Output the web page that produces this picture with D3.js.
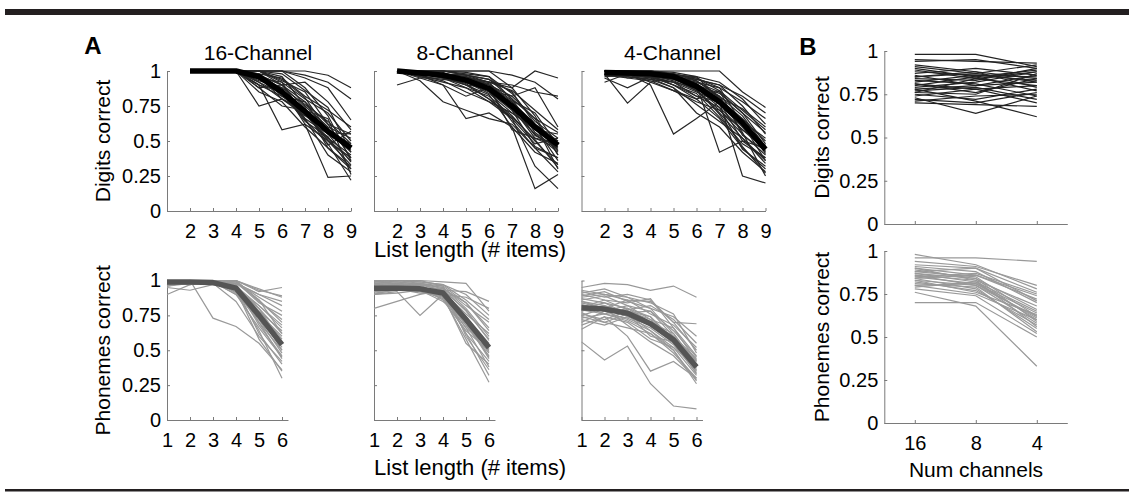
<!DOCTYPE html>
<html>
<head>
<meta charset="utf-8">
<script src="https://cdn.jsdelivr.net/npm/d3@7"></script>
<style>
    body { margin: 0; background: #fff; }
    svg { display: block; }
</style>
</head>
<body>
<script>
    // list lengths on the x axes
    var listLenDigits = [2, 3, 4, 5, 6, 7, 8, 9];
    var listLenPhon = [1, 2, 3, 4, 5, 6];
    var channelLabels = ["16", "8", "4"];
    var yTicks = [0, 0.25, 0.5, 0.75, 1];

    // digit span, proportion correct per subject (list length 2..9)
    var digits16 = [
        [1,1,1,1,1,1,0.97,0.88], [1,1,1,1,1,0.97,0.92,0.80], [1,1,1,1,1,0.95,0.88,0.65],
        [1,1,1,0.75,0.80,0.70,0.55,0.45], [1,1,1,0.90,0.58,0.62,0.50,0.38], [1,1,1,0.95,0.88,0.62,0.24,0.25],
        [1,1,1,1,0.93,0.85,0.62,0.55], [1,1,1,0.97,0.90,0.78,0.55,0.35], [1,1,1,0.92,0.80,0.68,0.58,0.42],
        [1,1,1,0.98,0.87,0.73,0.45,0.30], [1,1,1,0.95,0.92,0.80,0.70,0.50], [1,1,1,0.90,0.85,0.65,0.48,0.22],
        [1,1,1,1,0.96,0.75,0.60,0.52], [1,1,1,0.85,0.78,0.60,0.45,0.32], [1,1,1,1,0.90,0.92,0.78,0.58],
        [1,1,1,0.97,0.82,0.70,0.52,0.40], [1,1,1,0.93,0.88,0.76,0.64,0.48], [1,1,1,1,1,0.88,0.68,0.36],
        [1,1,1,0.96,0.85,0.66,0.40,0.28], [1,1,1,0.88,0.75,0.72,0.56,0.55], [1,1,1,0.98,0.95,0.82,0.72,0.60],
        [1,1,1,0.94,0.86,0.70,0.50,0.33], [1,1,1,1,0.92,0.66,0.55,0.44], [1,1,1,0.90,0.82,0.78,0.62,0.38],
        [1,1,1,0.97,0.90,0.74,0.47,0.57], [1,1,1,1,0.98,0.86,0.74,0.42], [1,1,1,0.92,0.84,0.64,0.53,0.30],
        [1,1,1,0.96,0.80,0.72,0.66,0.26], [1,1,1,1,0.94,0.81,0.57,0.48], [1,1,1,0.88,0.90,0.69,0.51,0.36]
    ];
    var digits8 = [
        [0.90,0.95,0.95,0.93,0.92,0.90,0.85,0.82], [1,1,1,1,1,0.97,0.92,0.80], [1,0.98,0.97,0.95,0.92,0.88,1.0,0.95],
        [1,0.93,0.78,0.72,0.66,0.62,0.45,0.38], [1,0.97,0.90,0.66,0.70,0.60,0.16,0.26], [1,1,0.95,0.90,0.80,0.66,0.32,0.16],
        [1,1,1,0.97,0.92,0.75,0.58,0.55], [1,0.98,0.96,0.92,0.85,0.72,0.55,0.42], [1,1,0.98,0.96,0.90,0.78,0.62,0.50],
        [1,1,1,1,1,0.88,0.68,0.40], [1,0.96,0.92,0.88,0.82,0.68,0.50,0.33], [1,1,0.97,0.95,0.86,0.82,0.88,0.60],
        [1,0.99,0.95,0.90,0.88,0.58,0.52,0.45], [1,1,0.98,0.97,0.94,0.85,0.62,0.30], [1,0.97,0.93,0.85,0.78,0.66,0.48,0.52],
        [1,1,1,0.98,0.96,0.80,0.56,0.44], [1,1,0.96,0.92,0.84,0.70,0.60,0.36], [1,0.98,0.97,0.94,0.90,0.82,0.66,0.56],
        [1,1,0.99,0.93,0.86,0.64,0.45,0.28], [1,0.95,0.90,0.82,0.88,0.74,0.52,0.48], [1,1,0.98,0.96,0.92,0.86,0.72,0.58],
        [1,0.99,0.97,0.90,0.83,0.60,0.42,0.34], [1,1,0.96,0.93,0.88,0.76,0.54,0.46], [1,1,1,0.97,0.94,0.80,0.66,0.40],
        [1,0.98,0.95,0.88,0.78,0.70,0.58,0.50], [1,1,0.97,0.95,0.90,0.72,0.46,0.38], [1,0.96,0.94,0.92,0.86,0.78,0.62,0.43],
        [1,1,1,0.99,0.96,0.84,0.64,0.52], [1,0.99,0.96,0.91,0.80,0.67,0.51,0.31], [1,1,0.98,0.94,0.91,0.79,0.70,0.47]
    ];
    var digits4 = [
        [0.98,0.77,0.92,0.96,0.94,0.90,0.82,0.70], [0.92,0.98,0.90,0.55,0.66,0.78,0.50,0.38], [1,1,1,1,1,1,0.85,0.74],
        [1,0.95,0.97,0.95,0.90,0.42,0.50,0.45], [0.95,0.88,0.96,0.92,0.85,0.78,0.25,0.20], [1,1,0.98,0.96,0.92,0.85,0.70,0.48],
        [1,0.98,0.96,0.90,0.80,0.66,0.45,0.30], [1,1,1,0.98,0.94,0.90,0.75,0.55], [0.97,0.95,0.93,0.86,0.78,0.72,0.55,0.40],
        [1,1,0.99,0.97,0.95,0.88,0.62,0.36], [1,0.97,0.95,0.88,0.70,0.60,0.42,0.28], [1,1,0.98,0.97,0.96,0.92,0.80,0.62],
        [0.98,0.96,0.94,0.92,0.82,0.74,0.58,0.44], [1,1,1,0.99,0.96,0.80,0.66,0.50], [1,0.99,0.97,0.93,0.86,0.70,0.52,0.34],
        [0.96,0.97,0.96,0.95,0.90,0.82,0.68,0.46], [1,1,0.98,0.94,0.88,0.76,0.60,0.42], [1,0.98,0.92,0.86,0.80,0.86,0.72,0.58],
        [1,1,0.99,0.98,0.93,0.82,0.56,0.25], [0.98,0.99,0.97,0.90,0.84,0.67,0.48,0.38], [1,1,1,0.97,0.91,0.80,0.64,0.52],
        [1,0.97,0.95,0.92,0.88,0.74,0.44,0.32], [0.99,0.98,0.96,0.94,0.92,0.88,0.78,0.66], [1,1,0.98,0.95,0.86,0.72,0.58,0.47],
        [1,0.99,0.96,0.90,0.82,0.78,0.65,0.41], [1,1,0.99,0.96,0.90,0.84,0.70,0.56], [0.97,0.96,0.94,0.88,0.76,0.64,0.52,0.36],
        [1,1,1,0.98,0.95,0.86,0.54,0.43], [1,0.98,0.97,0.95,0.87,0.69,0.46,0.27], [1,1,0.98,0.96,0.93,0.81,0.73,0.60]
    ];
    var digitsMean16 = [1, 1, 1, 0.96, 0.85, 0.71, 0.57, 0.45];
    var digitsMean8 = [1, 0.985, 0.97, 0.935, 0.875, 0.75, 0.60, 0.47];
    var digitsMean4 = [0.99, 0.985, 0.98, 0.96, 0.89, 0.78, 0.63, 0.44];

    // phoneme recall, proportion correct per subject (list length 1..6)
    var phon16 = [
        [0.90,0.97,0.99,1.0,0.92,0.95], [0.97,1,0.73,0.67,0.55,0.36], [0.95,0.93,0.97,1,0.93,0.89],
        [1,1,1,0.98,0.90,0.85], [1,1,1,0.96,0.80,0.62], [0.98,1,0.99,0.92,0.70,0.50],
        [1,0.99,1,0.95,0.62,0.40], [0.96,0.98,1,1,0.85,0.72], [1,1,0.99,0.90,0.66,0.45],
        [0.99,1,1,0.97,0.78,0.58], [1,0.98,0.99,0.93,0.58,0.35], [0.97,0.99,1,0.99,0.88,0.78],
        [1,1,0.98,0.85,0.60,0.42], [0.99,1,1,0.96,0.82,0.66], [1,0.97,1,0.94,0.74,0.52],
        [0.98,1,0.99,1,0.86,0.70], [1,1,1,0.91,0.72,0.48], [0.99,0.99,0.98,0.97,0.76,0.60],
        [1,1,1,0.99,0.84,0.75], [0.96,0.99,1,0.92,0.64,0.30], [1,1,0.99,0.95,0.80,0.55],
        [0.98,0.97,1,0.97,0.70,0.44], [1,1,1,0.98,0.90,0.82], [0.99,1,0.98,0.93,0.78,0.64],
        [1,0.99,1,0.96,0.68,0.46], [0.97,1,0.99,0.94,0.82,0.68], [1,1,1,1,0.94,0.88],
        [0.99,0.98,0.99,0.90,0.74,0.56], [1,1,0.97,0.96,0.76,0.50], [0.98,0.99,1,0.98,0.86,0.62]
    ];
    var phon8 = [
        [0.80,0.85,0.90,0.93,0.92,0.85], [0.90,0.92,0.75,0.90,0.88,0.80], [1,1,1,0.99,0.98,0.78],
        [0.95,0.96,0.94,0.92,0.72,0.45], [0.97,0.98,0.96,0.90,0.62,0.32], [0.92,0.93,0.95,0.88,0.58,0.27],
        [0.98,0.97,0.97,0.95,0.80,0.60], [0.94,0.95,0.93,0.90,0.68,0.48], [0.99,1,0.98,0.96,0.84,0.66],
        [0.90,0.94,0.95,0.86,0.64,0.50], [0.96,0.95,0.97,0.93,0.74,0.55], [0.93,0.96,0.92,0.89,0.55,0.40],
        [1,0.99,0.99,0.97,0.86,0.72], [0.95,0.97,0.96,0.91,0.70,0.44], [0.91,0.93,0.94,0.94,0.78,0.58],
        [0.97,0.98,0.97,0.88,0.66,0.52], [0.94,0.96,0.95,0.92,0.76,0.62], [0.99,0.98,1,0.96,0.60,0.36],
        [0.92,0.95,0.93,0.85,0.72,0.49], [0.96,0.97,0.98,0.95,0.82,0.70], [0.93,0.94,0.91,0.90,0.62,0.42],
        [0.98,0.99,0.97,0.93,0.79,0.57], [0.95,0.95,0.96,0.89,0.68,0.46], [0.90,0.91,0.93,0.87,0.74,0.53],
        [0.97,0.96,0.98,0.94,0.84,0.64], [0.94,0.97,0.94,0.91,0.71,0.51], [0.99,1,0.99,0.97,0.90,0.75],
        [0.92,0.94,0.92,0.88,0.66,0.38]
    ];
    var phon4 = [
        [0.95,0.98,0.97,0.93,0.96,0.88], [0.56,0.43,0.53,0.26,0.10,0.08], [0.65,0.74,0.60,0.35,0.42,0.30],
        [0.88,0.90,0.86,0.85,0.70,0.69], [0.85,0.80,0.78,0.72,0.58,0.42], [0.78,0.82,0.74,0.68,0.55,0.35],
        [0.92,0.88,0.90,0.86,0.70,0.50], [0.74,0.70,0.66,0.62,0.48,0.30], [0.82,0.76,0.80,0.70,0.62,0.40],
        [0.70,0.78,0.72,0.64,0.50,0.28], [0.90,0.86,0.84,0.87,0.66,0.46], [0.80,0.84,0.76,0.60,0.56,0.33],
        [0.76,0.72,0.78,0.74,0.58,0.37], [0.86,0.89,0.82,0.78,0.64,0.45], [0.68,0.74,0.70,0.58,0.52,0.32],
        [0.84,0.80,0.86,0.76,0.68,0.52], [0.93,0.90,0.88,0.80,0.62,0.40], [0.79,0.76,0.73,0.66,0.54,0.34],
        [0.72,0.68,0.74,0.70,0.60,0.44], [0.87,0.84,0.80,0.74,0.56,0.36], [0.81,0.86,0.79,0.82,0.72,0.55],
        [0.75,0.80,0.68,0.56,0.46,0.29], [0.89,0.92,0.85,0.80,0.74,0.60], [0.77,0.70,0.76,0.64,0.52,0.38],
        [0.83,0.78,0.82,0.72,0.66,0.42], [0.91,0.94,0.88,0.84,0.76,0.48], [0.73,0.76,0.71,0.62,0.50,0.26],
        [0.85,0.82,0.77,0.78,0.60,0.43]
    ];
    var phonMean16 = [0.99, 0.99, 0.985, 0.945, 0.75, 0.54];
    var phonMean8 = [0.945, 0.945, 0.94, 0.91, 0.72, 0.52];
    var phonMean4 = [0.805, 0.795, 0.765, 0.69, 0.575, 0.38];

    // panel B: per subject, 16 / 8 / 4 channels
    var digitsByChannel = [
        [0.98,0.98,0.91], [0.95,0.94,0.93], [0.94,0.95,0.90], [0.78,0.71,0.62], [0.73,0.64,0.74],
        [0.91,0.87,0.82], [0.89,0.84,0.88], [0.86,0.80,0.86], [0.85,0.88,0.79], [0.84,0.83,0.90],
        [0.82,0.86,0.85], [0.81,0.76,0.84], [0.80,0.85,0.77], [0.79,0.82,0.88], [0.77,0.79,0.72],
        [0.76,0.84,0.80], [0.75,0.72,0.78], [0.74,0.78,0.70], [0.72,0.70,0.76], [0.70,0.69,0.68],
        [0.87,0.90,0.86], [0.83,0.81,0.74], [0.88,0.86,0.83], [0.78,0.80,0.82], [0.71,0.74,0.75],
        [0.90,0.85,0.89], [0.81,0.78,0.80], [0.85,0.87,0.92], [0.76,0.75,0.87], [0.92,0.88,0.84]
    ];
    var phonByChannel = [
        [0.96,0.96,0.94], [0.98,0.92,0.78], [0.76,0.68,0.33], [0.70,0.70,0.50], [0.94,0.91,0.80],
        [0.92,0.90,0.76], [0.91,0.88,0.70], [0.90,0.86,0.74], [0.89,0.84,0.66], [0.88,0.85,0.62],
        [0.87,0.82,0.60], [0.86,0.83,0.68], [0.86,0.80,0.58], [0.85,0.81,0.64], [0.84,0.78,0.55],
        [0.84,0.86,0.72], [0.83,0.80,0.62], [0.82,0.77,0.57], [0.81,0.79,0.53], [0.80,0.75,0.60],
        [0.79,0.82,0.65], [0.78,0.74,0.52], [0.88,0.90,0.71], [0.87,0.84,0.59], [0.85,0.87,0.75],
        [0.83,0.76,0.63], [0.90,0.83,0.56], [0.80,0.81,0.61]
    ];

    var FONT = "'Liberation Sans', Arial, sans-serif";
    var W = 1129, H = 492;
    var noLabel = function() { return ""; };
    var plain = function(d) { return String(d); };

    var svg = d3.select("body").append("svg")
        .attr("width", W)
        .attr("height", H);

    // frame rules
    svg.append("rect").attr("x", 5).attr("y", 9).attr("width", W - 5).attr("height", 6).attr("fill", "#231f20");
    svg.append("rect").attr("x", 5).attr("y", 489).attr("width", W - 5).attr("height", 2.5).attr("fill", "#231f20");

    function drawPanel(cfg) {
        var g = svg.append("g");
        var x = cfg.x;
        var y = d3.scaleLinear().domain([0, 1]).range([cfg.bottom, cfg.top]);

        var yAxis = g.append("g")
            .attr("transform", "translate(" + x.range()[0] + ",0)")
            .call(d3.axisLeft(y).tickValues(yTicks).tickSize(-3).tickSizeOuter(0).tickPadding(6)
                .tickFormat(cfg.yLabels ? plain : noLabel));

        var xAxis = g.append("g")
            .attr("transform", "translate(0," + cfg.bottom + ")")
            .call(d3.axisBottom(x).tickValues(cfg.xs).tickSize(-3).tickSizeOuter(0).tickPadding(13)
                .tickFormat(cfg.xFormat));

        [yAxis, xAxis].forEach(function(a) {
            a.selectAll("path, line").attr("stroke", "#7a7a7a").attr("stroke-width", 1);
            a.selectAll("text")
                .attr("fill", "#000")
                .style("font-family", FONT)
                .style("font-size", "20px");
        });

        var line = d3.line()
            .x((d, i) => x(cfg.xs[i]))
            .y(d => y(d));

        g.append("g")
            .selectAll("path")
            .data(cfg.data)
            .enter()
            .append("path")
            .attr("d", line)
            .attr("fill", "none")
            .attr("stroke", cfg.color)
            .attr("stroke-width", 1.2)
            .attr("stroke-linejoin", "miter");

        if (cfg.mean) {
            g.append("path")
                .datum(cfg.mean)
                .attr("d", line)
                .attr("fill", "none")
                .attr("stroke", cfg.meanColor)
                .attr("stroke-width", 5.5)
                .attr("stroke-linejoin", "round");
        }

        if (cfg.title) {
            g.append("text")
                .attr("x", (x.range()[0] + x.range()[1]) / 2 - 1)
                .attr("y", 60)
                .attr("text-anchor", "middle")
                .style("font-family", FONT)
                .style("font-size", "21px")
                .text(cfg.title);
        }
        if (cfg.yTitle) {
            g.append("text")
                .attr("transform", "translate(" + cfg.yTitleX + "," + ((cfg.top + cfg.bottom) / 2) + ") rotate(-90)")
                .attr("dy", "0.35em")
                .attr("text-anchor", "middle")
                .style("font-family", FONT)
                .style("font-size", "21px")
                .text(cfg.yTitle);
        }
    }

    // panel A
    var colLeft = [167, 374, 581.5];
    var digitSets = [digits16, digits8, digits4];
    var digitMeans = [digitsMean16, digitsMean8, digitsMean4];
    var phonSets = [phon16, phon8, phon4];
    var phonMeans = [phonMean16, phonMean8, phonMean4];
    var titles = ["16-Channel", "8-Channel", "4-Channel"];

    colLeft.forEach(function(left, k) {
        drawPanel({
            x: d3.scaleLinear().domain([1, 9]).range([left, left + 184]),
            xs: listLenDigits, xFormat: plain,
            top: 71, bottom: 211,
            data: digitSets[k], mean: digitMeans[k],
            color: "#262626", meanColor: "#000",
            title: titles[k],
            yLabels: k == 0,
            yTitle: k == 0 ? "Digits correct" : null, yTitleX: 103
        });
        drawPanel({
            x: d3.scaleLinear().domain([1, 6.26]).range([left, left + 23 * 5.26]),
            xs: listLenPhon, xFormat: plain,
            top: 280.5, bottom: 420,
            data: phonSets[k], mean: phonMeans[k],
            color: "#999", meanColor: "#555",
            yLabels: k == 0,
            yTitle: k == 0 ? "Phonemes correct" : null, yTitleX: 103
        });
    });

    // panel B
    var xB = d3.scalePoint().domain([0, 1, 2]).range([884.3, 1067.3]).padding(0.5);
    drawPanel({
        x: xB, xs: [0, 1, 2], xFormat: noLabel,
        top: 51, bottom: 224,
        data: digitsByChannel,
        color: "#222",
        yLabels: true,
        yTitle: "Digits correct", yTitleX: 822
    });
    drawPanel({
        x: xB, xs: [0, 1, 2], xFormat: (d => channelLabels[d]),
        top: 251, bottom: 423,
        data: phonByChannel,
        color: "#999",
        yLabels: true,
        yTitle: "Phonemes correct", yTitleX: 822
    });

    // axis titles and panel letters
    function label(txt, x, y, size, weight) {
        svg.append("text")
            .attr("x", x).attr("y", y)
            .attr("text-anchor", "middle")
            .style("font-family", FONT)
            .style("font-size", size + "px")
            .style("font-weight", weight || "normal")
            .text(txt);
    }
    label("List length (# items)", 470, 256.5, 22);
    label("List length (# items)", 470, 475, 22);
    label("Num channels", 976, 477, 21);
    label("A", 93, 54, 24, "bold");
    label("B", 808, 55, 24, "bold");
</script>
</body>
</html>
